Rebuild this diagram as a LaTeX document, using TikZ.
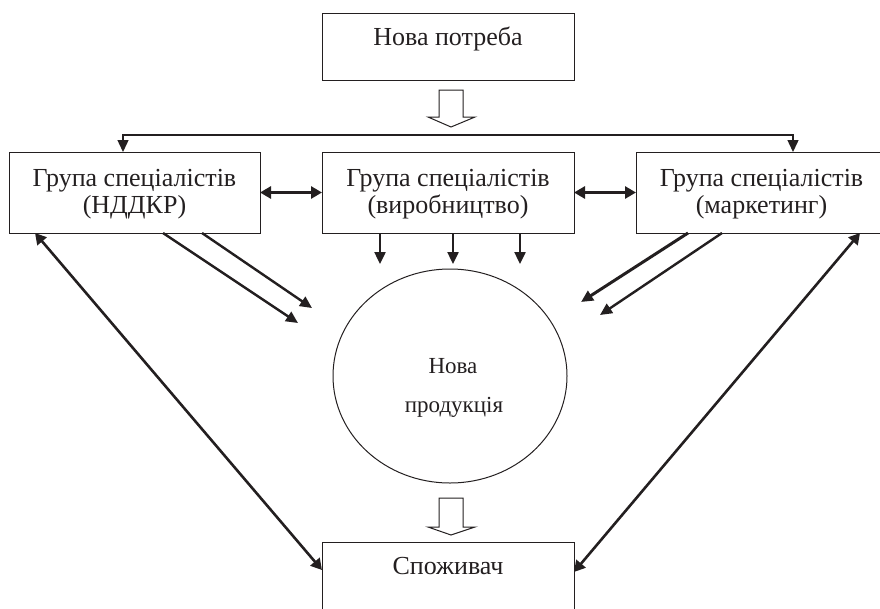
\documentclass[tikz,border=0pt]{standalone}
\usepackage{fontspec}
\setmainfont{Liberation Serif}
\usetikzlibrary{arrows.meta,shapes.geometric}
\definecolor{ink}{HTML}{231F20}
\begin{document}
\begin{tikzpicture}[x=1pt,y=-1pt,
  box/.style={draw=ink, line width=1pt, rectangle, inner sep=0pt, outer sep=0pt},
  txt/.style={text=ink, font=\fontsize{26}{30}\selectfont, inner sep=0pt, anchor=base},
  stxt/.style={text=ink, font=\fontsize{23}{27}\selectfont, inner sep=0pt, anchor=base},
  arr/.style={draw=ink, line width=2.4pt, -{Triangle[length=12pt,width=11pt]}},
  thinarr/.style={draw=ink, line width=1.4pt, {Triangle[length=12pt,width=11pt]}-{Triangle[length=12pt,width=11pt]}},
  darr/.style={draw=ink, line width=2.8pt, {Triangle[length=11pt,width=12pt]}-{Triangle[length=11pt,width=12pt]}},
  hollow/.style={draw=ink, line width=1pt, fill=white},
]
\useasboundingbox (0,0) rectangle (880,608);

% boxes
\node[box, minimum width=252pt, minimum height=67pt] (T) at (448,46.5) {};
\node[box, minimum width=251pt, minimum height=81pt] (L) at (134.5,192.5) {};
\node[box, minimum width=252pt, minimum height=81pt] (M) at (448,192.5) {};
\node[box, minimum width=251pt, minimum height=81pt] (R) at (761.5,192.5) {};
\node[box, minimum width=252pt, minimum height=80pt] (B) at (448,582) {};
\node[draw=ink, line width=1pt, ellipse, minimum width=234pt, minimum height=214pt, inner sep=0pt, outer sep=0pt] (E) at (450,376) {};

% texts
\node[txt] (Tt) at (448,45) {Нова потреба};
\node[txt] (L1) at (134.5,186) {Група спеціалістів};
\node[txt] (L2) at (134.5,213) {(НДДКР)};
\node[txt] (M1) at (448,186) {Група спеціалістів};
\node[txt] (M2) at (448,213) {(виробництво)};
\node[txt] (R1) at (761.5,186) {Група спеціалістів};
\node[txt] (R2) at (761.5,213) {(маркетинг)};
\node[txt] (Bt) at (448,574) {Споживач};
\node[stxt] (E1) at (453,373) {Нова};
\node[stxt] (E2) at (454,412) {продукція};

% hollow arrows
\path[hollow] (439,90) -- (463,90) -- (463,117) -- (475,117) -- (451,127) -- (428,117) -- (439,117) -- cycle;
\path[hollow] (439,498) -- (463,498) -- (463,527) -- (475,527) -- (451,535) -- (428,527) -- (439,527) -- cycle;

% distribution line
\coordinate (dl) at (123,135);
\coordinate (dr) at (793,135);
\draw[thinarr] (dl |- L.north) -- (dl) -- (dr) -- (dr |- R.north);

% arrows between groups
\draw[darr] (L.east) -- (M.west);
\draw[darr] (M.east) -- (R.west);

% arrows from production group to the product
\coordinate (p1) at (380,264);
\coordinate (p2) at (453,264);
\coordinate (p3) at (520,264);
\draw[arr] (M.south -| p1) -- (p1);
\draw[arr] (M.south -| p2) -- (p2);
\draw[arr] (M.south -| p3) -- (p3);

% arrows from R&D group
\coordinate (n1) at (298,323);
\coordinate (n2) at (312,308);
\draw[arr] ([xshift=154pt]L.south west) -- (n1);
\draw[arr] ([xshift=193pt]L.south west) -- (n2);

% arrows from marketing group
\coordinate (m1) at (581,302);
\coordinate (m2) at (600,315);
\draw[arr, line width=3pt] ([xshift=52pt]R.south west) -- (m1);
\draw[arr] ([xshift=86pt]R.south west) -- (m2);

% long links with consumer
\draw[darr, line width=2.6pt] ([xshift=26pt]L.south west) -- ([yshift=-28pt]B.north west);
\draw[darr, line width=2.6pt] ([xshift=-27pt]R.south east) -- ([yshift=-30pt]B.north east);
\end{tikzpicture}
\end{document}
